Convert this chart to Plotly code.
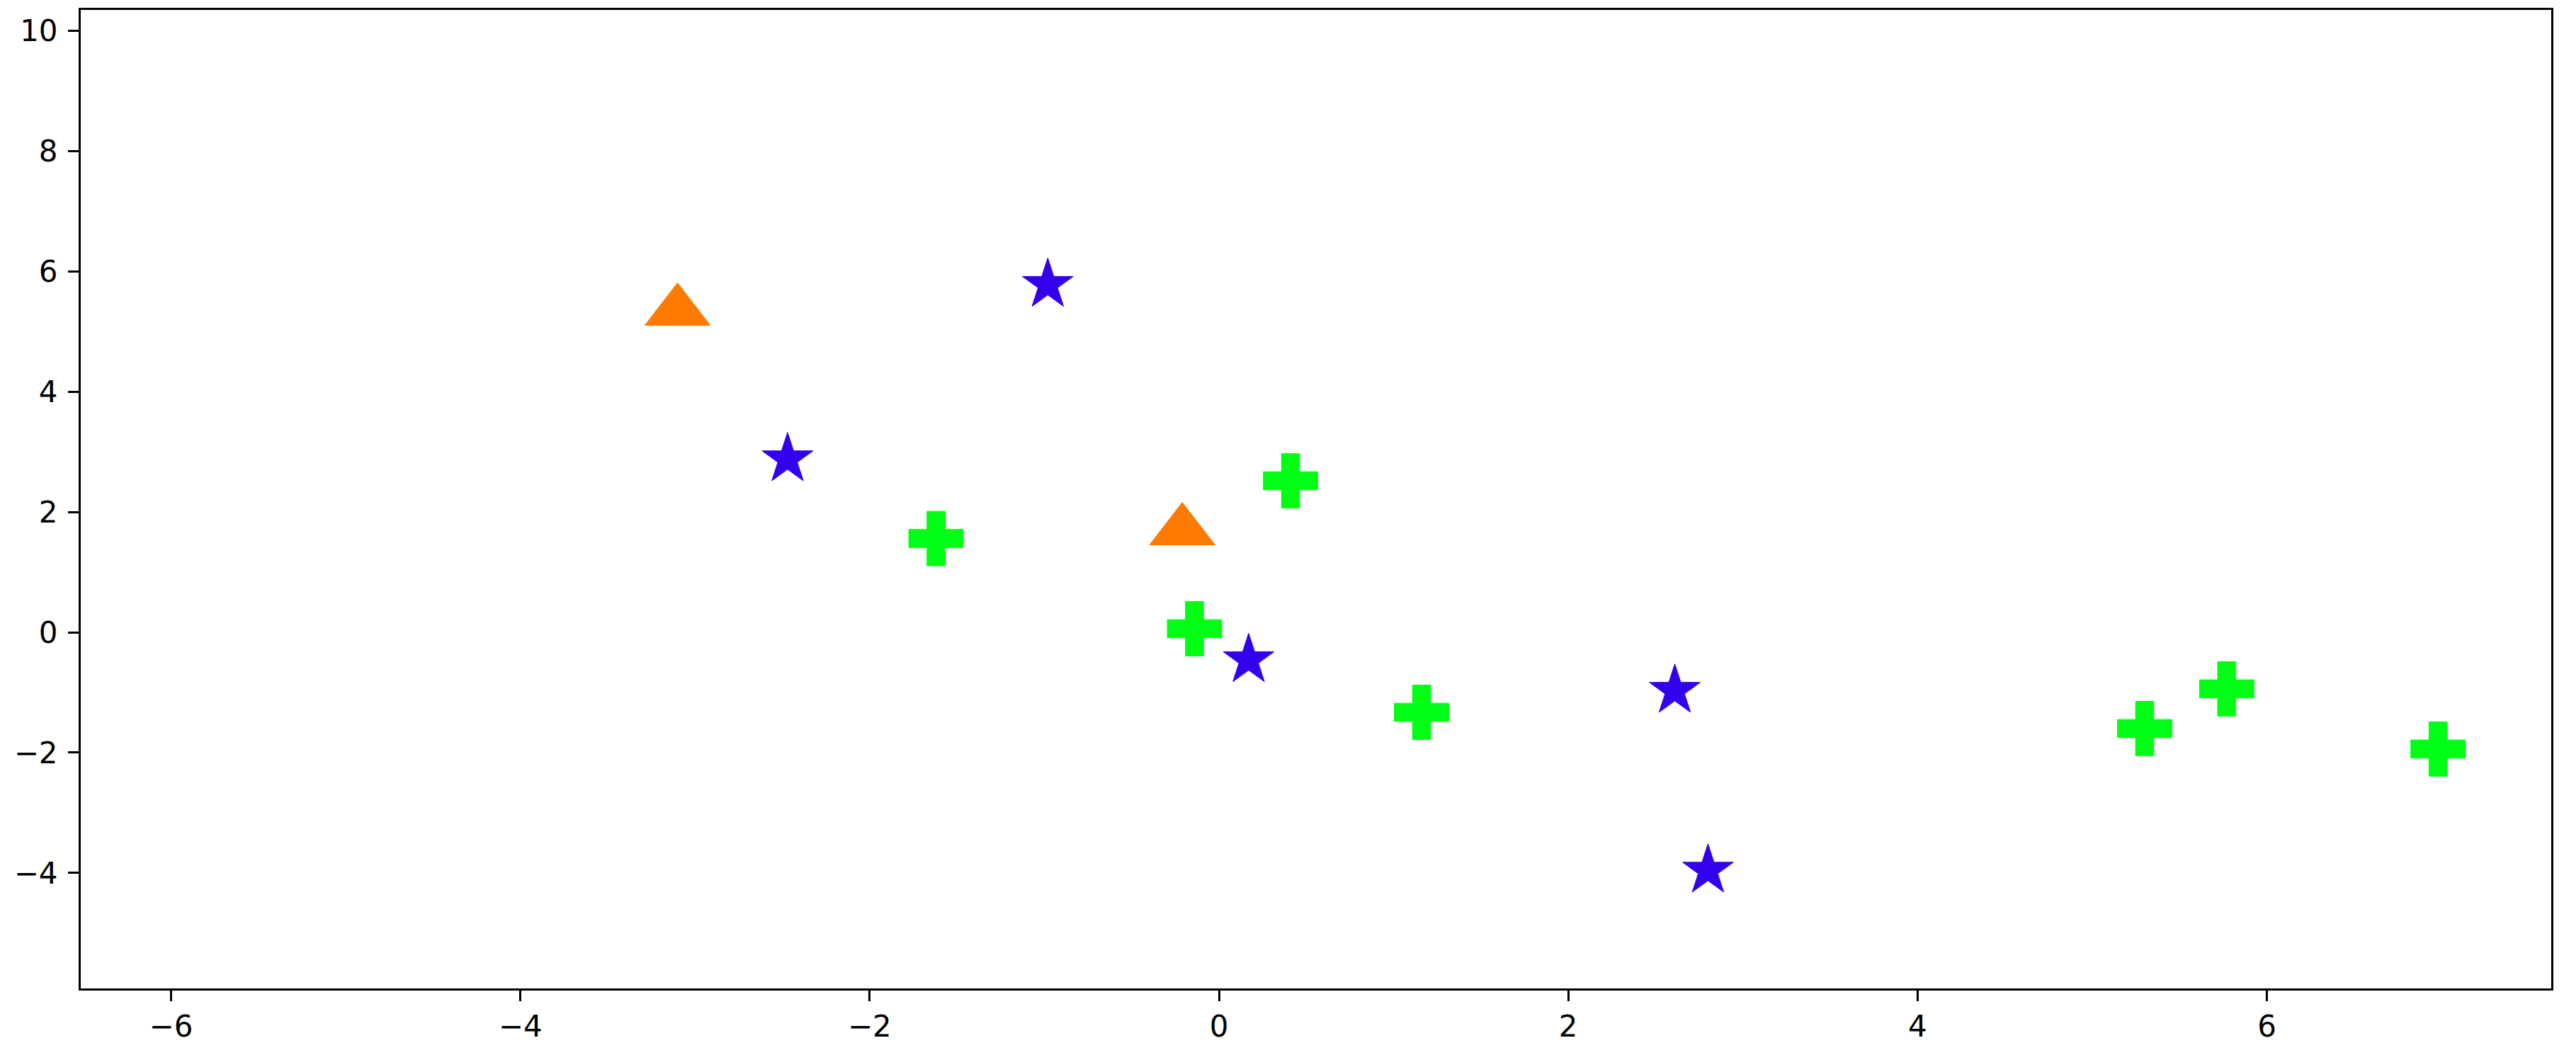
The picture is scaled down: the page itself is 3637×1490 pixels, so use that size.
import plotly.graph_objects as go

# values
tri_x = [-3.10, -0.21]
tri_y = [5.34, 1.69]

star_x = [-0.98, -2.47, 0.17, 2.61, 2.80]
star_y = [5.78, 2.88, -0.46, -0.97, -3.96]

plus_x = [-1.62, 0.41, -0.14, 1.16, 5.30, 5.77, 6.98]
plus_y = [1.56, 2.52, 0.06, -1.33, -1.60, -0.94, -1.94]

x_range = [-6.517, 7.628]
y_range = [-5.921, 10.349]

fig = go.Figure()

fig.add_trace(go.Scatter(
    x=tri_x, y=tri_y, mode="markers",
    marker=dict(symbol="triangle-up", size=80, color="#ff7a00",
                line=dict(width=1, color="#ff7a00")),
))
fig.add_trace(go.Scatter(
    x=star_x, y=star_y, mode="markers",
    marker=dict(symbol="star", size=54, color="#3300ee",
                line=dict(width=1, color="#3300ee")),
))
fig.add_trace(go.Scatter(
    x=plus_x, y=plus_y, mode="markers",
    marker=dict(symbol="cross", size=64, color="#00ff14",
                line=dict(width=1, color="#00ff14")),
))

axis_style = dict(
    showgrid=False,
    zeroline=False,
    showline=True,
    mirror=True,
    linecolor="black",
    linewidth=3,
    ticks="outside",
    ticklen=15,
    tickwidth=3,
    tickcolor="black",
    dtick=2,
    tick0=0,
)

# the page body has an 8px margin, so the figure is shrunk to fit
fig.update_layout(
    width=3621,
    height=1474,
    showlegend=False,
    paper_bgcolor="white",
    plot_bgcolor="white",
    font=dict(family="DejaVu Sans", size=42, color="black"),
    margin=dict(l=106, r=27, t=3, b=86),
    xaxis=dict(range=x_range, ticklabelstandoff=0, **axis_style),
    yaxis=dict(range=y_range, ticklabelstandoff=6, **axis_style),
)

fig.write_html("out.html")
